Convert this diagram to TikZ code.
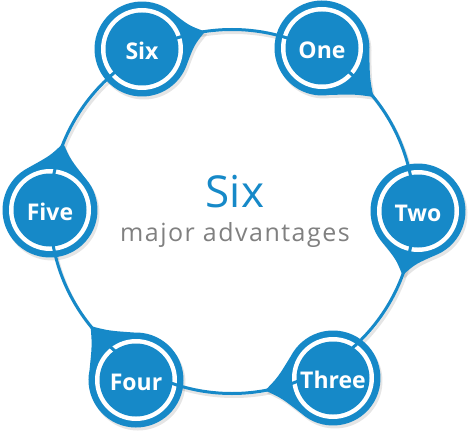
\documentclass[tikz,border=0pt]{standalone}
\usepackage{fontspec}
\setmainfont{Open Sans}
\newfontfamily\subfont[LetterSpace=6]{Open Sans}
\usetikzlibrary{calc}
\definecolor{mainblue}{RGB}{22,137,200}
\definecolor{txtgray}{RGB}{128,128,128}
\def\nodelist{142/49/261.5/Six, 322/48/321/One, 418/211/20.5/Two, 333/378/79.5/Three, 136/380/141/Four, 50/210/202/Five}
\newcommand\pinshape[1]{%
  \pgfmathsetmacro\tx{232+182*cos(\a)}%
  \pgfmathsetmacro\ty{211.5+182*sin(\a)}%
  \pgfmathsetmacro\dir{atan2(\ty-\cy,\tx-\cx)}%
  \pgfmathsetmacro\dd{veclen(\tx-\cx,\ty-\cy)}%
  \pgfmathsetmacro\cr{0.80*\dd}%
  \pgfmathsetmacro\aone{\dir-11}%
  \pgfmathsetmacro\atwo{\dir+11}%
  \pgfmathsetmacro\sa{\dir-38}%
  \fill[#1] (\tx,\ty) .. controls ($(\cx,\cy)+(\aone:\cr)$) .. ($(\cx,\cy)+(\sa:47.5)$)
     arc[start angle=\sa, delta angle=-284, radius=47.5]
     .. controls ($(\cx,\cy)+(\atwo:\cr)$) .. (\tx,\ty) -- cycle;}
\begin{document}
\begin{tikzpicture}[x=1pt,y=-1pt,
  bigring/.style={draw=mainblue, line width=3},
  pinfill/.style={fill=mainblue},
  shadowfill/.style={fill=black, opacity=0.10},
  disk/.style={circle, fill=mainblue, minimum size=73, inner sep=0pt, text=white,
    font=\fontsize{23}{23}\selectfont\bfseries, text height=21.4pt, text depth=0pt},
]
\useasboundingbox[fill=white] (0,0) rectangle (476,433);
\coordinate (O) at (232,211.5);
% shadows
\draw[black, opacity=0.10, line width=3] ([shift={(2,3)}]O) circle[radius=182];
\foreach \cx/\cy/\a/\txt in \nodelist {
  \begin{scope}[shift={(2,3)}]\pinshape{shadowfill}\end{scope}
}
% pins
\foreach \cx/\cy/\a/\txt in \nodelist {\pinshape{pinfill}}
% white gaps
\foreach \cx/\cy/\a/\txt in \nodelist {\fill[white] (\cx,\cy) circle[radius=41];}
% main circle
\draw[bigring] (O) circle[radius=182];
% inner disks
\foreach \cx/\cy/\a/\txt in \nodelist {\node[disk] (n\txt) at (\cx,\cy) {\txt};}
% centre texts
\node[anchor=base, text=mainblue, font=\fontsize{44}{44}\selectfont, inner sep=0pt] (title) at (235,207) {Six};
\node[anchor=base, text=txtgray, font=\subfont\fontsize{25}{25}\selectfont, inner sep=0pt] (sub) at (235,241.5) {major advantages};
\end{tikzpicture}
\end{document}
